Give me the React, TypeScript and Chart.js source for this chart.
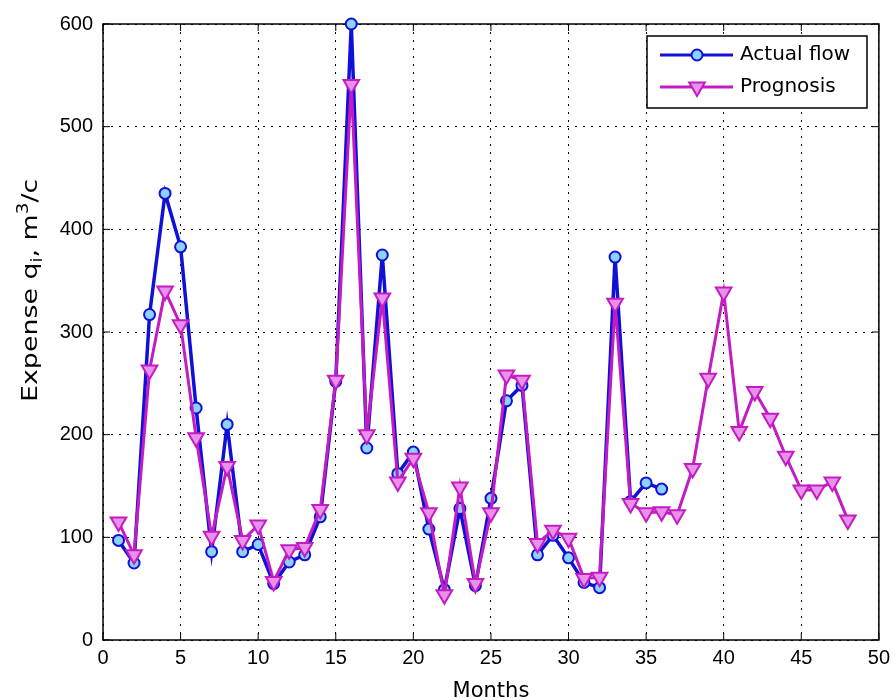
import React, { useEffect, useRef } from "react";
import { Chart, registerables } from "chart.js";

Chart.register(...registerables);

const actualMonths = [1,2,3,4,5,6,7,8,9,10,11,12,13,14,15,16,17,18,19,20,21,22,23,24,25,26,27,28,29,30,31,32,33,34,35,36];
const actualFlow = [97,75,317,435,383,226,86,210,86,93,55,76,83,120,252,600,187,375,162,183,108,49,128,53,138,233,248,83,102,80,56,51,373,135,153,147];

const prognosisMonths = [1,2,3,4,5,6,7,8,9,10,11,12,13,14,15,16,17,18,19,20,21,22,23,24,25,26,27,28,29,30,31,32,33,34,35,36,37,38,39,40,41,42,43,44,45,46,47,48];
const prognosis = [115,83,263,340,307,197,101,169,97,112,57,88,90,127,253,541,200,333,154,177,124,44,149,55,124,258,253,94,107,99,60,61,328,133,124,125,122,167,255,339,203,242,216,179,146,146,154,117];

const seriesNames = ["Actual flow", "Prognosis"];
const xLabel = "Months";

const BLUE = "#1010d8";
const BLUE_FILL = "#8cd2fa";
const MAG = "#c21cc2";
const MAG_FILL = "#e890ea";

const TICK_FONT = "Liberation Sans";
const LABEL_FONT = "DejaVu Sans";

function drawTriangleDown(ctx: CanvasRenderingContext2D, x: number, y: number, r: number) {
  ctx.beginPath();
  for (let k = 0; k < 3; k++) {
    const a = Math.PI + (k * 2 * Math.PI) / 3;
    const px = x + Math.sin(a) * r;
    const py = y - Math.cos(a) * r;
    if (k === 0) ctx.moveTo(px, py);
    else ctx.lineTo(px, py);
  }
  ctx.closePath();
}

const framePlugin = {
  id: "matlabFrame",
  beforeDatasetsDraw(chart: any) {
    const { ctx, chartArea } = chart;
    const { left, right, top, bottom } = chartArea;
    const xs = chart.scales.x;
    const ys = chart.scales.y;
    ctx.save();
    ctx.strokeStyle = "#000";
    ctx.lineWidth = 1.5;
    ctx.strokeRect(left, top, right - left, bottom - top);
    ctx.lineWidth = 1;
    const tl = 7;
    xs.ticks.forEach((t: any) => {
      const px = xs.getPixelForValue(t.value);
      ctx.beginPath();
      ctx.moveTo(px, bottom);
      ctx.lineTo(px, bottom - tl);
      ctx.moveTo(px, top);
      ctx.lineTo(px, top + tl);
      ctx.stroke();
    });
    ys.ticks.forEach((t: any) => {
      const py = ys.getPixelForValue(t.value);
      ctx.beginPath();
      ctx.moveTo(left, py);
      ctx.lineTo(left + tl, py);
      ctx.moveTo(right, py);
      ctx.lineTo(right - tl, py);
      ctx.stroke();
    });
    ctx.restore();
  },
  afterDraw(chart: any) {
    const { ctx, chartArea } = chart;
    ctx.save();
    ctx.fillStyle = "#000";
    // x label
    ctx.font = `21px "${LABEL_FONT}"`;
    ctx.textAlign = "center";
    ctx.textBaseline = "alphabetic";
    ctx.fillText(xLabel, (chartArea.left + chartArea.right) / 2, 697);

    // y label with subscript & superscript
    ctx.save();
    ctx.translate(37, 402);
    ctx.rotate(-Math.PI / 2);
    ctx.scale(1.22, 1);
    ctx.textAlign = "left";
    const big = `22px "${LABEL_FONT}"`;
    const small = `15px "${LABEL_FONT}"`;
    let x = 0;
    const parts: [string, string, number][] = [
      ["Expense q", big, 0],
      ["i", small, 5],
      [", m", big, 0],
      ["3", small, -9],
      ["/c", big, 0],
    ];
    parts.forEach(([txt, f, dy]) => {
      ctx.font = f;
      ctx.fillText(txt, x, dy);
      x += ctx.measureText(txt).width;
    });
    ctx.restore();

    // legend
    const bx = 647, by = 36, bw = 220, bh = 72;
    ctx.fillStyle = "#fff";
    ctx.fillRect(bx, by, bw, bh);
    ctx.strokeStyle = "#000";
    ctx.lineWidth = 1.5;
    ctx.strokeRect(bx, by, bw, bh);
    const rows = [55, 87];
    ctx.lineWidth = 3;
    ctx.strokeStyle = BLUE;
    ctx.beginPath();
    ctx.moveTo(660, rows[0]);
    ctx.lineTo(733, rows[0]);
    ctx.stroke();
    ctx.beginPath();
    ctx.arc(697, rows[0], 5.5, 0, Math.PI * 2);
    ctx.fillStyle = BLUE_FILL;
    ctx.fill();
    ctx.lineWidth = 2;
    ctx.stroke();
    ctx.lineWidth = 3;
    ctx.strokeStyle = MAG;
    ctx.beginPath();
    ctx.moveTo(660, rows[1]);
    ctx.lineTo(733, rows[1]);
    ctx.stroke();
    drawTriangleDown(ctx, 697, rows[1], 9);
    ctx.fillStyle = MAG_FILL;
    ctx.fill();
    ctx.lineWidth = 2;
    ctx.stroke();

    ctx.fillStyle = "#000";
    ctx.font = `20px "${LABEL_FONT}"`;
    ctx.textAlign = "left";
    ctx.textBaseline = "middle";
    ctx.fillText(seriesNames[0], 740, rows[0]);
    ctx.fillText(seriesNames[1], 740, rows[1]);
    ctx.restore();
  },
};

export default function App() {
  const ref = useRef<HTMLCanvasElement | null>(null);
  useEffect(() => {
    if (!ref.current) return;
    const chart = new Chart(ref.current, {
      type: "line",
      data: {
        datasets: [
          {
            label: seriesNames[1],
            data: prognosisMonths.map((m, i) => ({ x: m, y: prognosis[i] })),
            borderColor: MAG,
            backgroundColor: MAG_FILL,
            pointBackgroundColor: MAG_FILL,
            pointBorderColor: MAG,
            borderWidth: 3,
            pointBorderWidth: 2,
            pointRadius: 9,
            pointStyle: "triangle",
            pointRotation: 180,
            tension: 0,
            order: 0,
            clip: false as any,
          },
          {
            label: seriesNames[0],
            data: actualMonths.map((m, i) => ({ x: m, y: actualFlow[i] })),
            borderColor: BLUE,
            backgroundColor: BLUE_FILL,
            pointBackgroundColor: BLUE_FILL,
            pointBorderColor: BLUE,
            borderWidth: 3.5,
            pointBorderWidth: 2,
            pointRadius: 5.5,
            pointStyle: "circle",
            tension: 0,
            order: 1,
            clip: false as any,
          },
        ],
      },
      options: {
        animation: false,
        responsive: false,
        devicePixelRatio: 1,
        layout: { padding: { top: 24, right: 16, left: 0, bottom: 0 } },
        plugins: { legend: { display: false }, tooltip: { enabled: false }, title: { display: false } },
        scales: {
          x: {
            type: "linear",
            min: 0,
            max: 50,
            ticks: { stepSize: 5, color: "#000", font: { family: TICK_FONT, size: 20 }, padding: 6, maxRotation: 0 },
            grid: { color: "#000", lineWidth: 1, drawTicks: false },
            border: { display: false, dash: [2, 6] },
            afterFit: (s: any) => { s.height = 58; },
          },
          y: {
            min: 0,
            max: 600,
            ticks: { stepSize: 100, color: "#000", font: { family: TICK_FONT, size: 20 }, padding: 10 },
            grid: { color: "#000", lineWidth: 1, drawTicks: false },
            border: { display: false, dash: [2, 6] },
            afterFit: (s: any) => { s.width = 103; },
          },
        },
      },
      plugins: [framePlugin],
    });
    return () => chart.destroy();
  }, []);
  return (
    <div style={{ position: "fixed", left: 0, top: 0, width: 896, height: 698, background: "#fff" }}>
      <canvas ref={ref} width={896} height={698} style={{ width: 896, height: 698, display: "block" }} />
    </div>
  );
}
